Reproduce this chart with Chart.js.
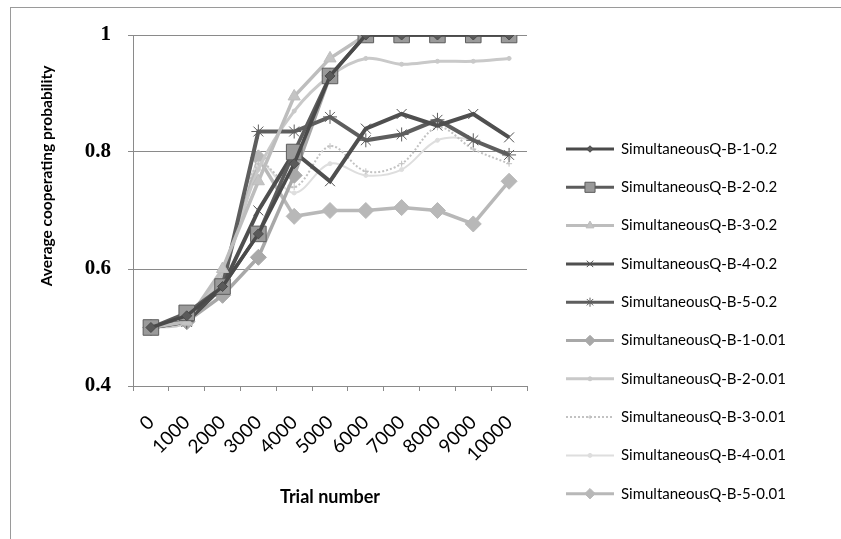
<!DOCTYPE html>
<html>
<head>
<meta charset="utf-8">
<script src="https://cdn.jsdelivr.net/npm/chart.js@4/dist/chart.umd.min.js"></script>
<style>
  html, body { margin: 0; padding: 0; background: #fff; }
  #wrap { width: 841px; height: 539px; position: relative; }
</style>
</head>
<body>
<div id="wrap"><canvas id="c" width="841" height="539"></canvas></div>
<script>
// ---- data ----
const categories = ["0","1000","2000","3000","4000","5000","6000","7000","8000","9000","10000"];
const seriesNames = [
  "SimultaneousQ-B-1-0.2","SimultaneousQ-B-2-0.2","SimultaneousQ-B-3-0.2",
  "SimultaneousQ-B-4-0.2","SimultaneousQ-B-5-0.2","SimultaneousQ-B-1-0.01",
  "SimultaneousQ-B-2-0.01","SimultaneousQ-B-3-0.01","SimultaneousQ-B-4-0.01",
  "SimultaneousQ-B-5-0.01"
];
const b1_02  = [0.50, 0.52, 0.57, 0.66, 0.78, 0.93, 1.00, 1.00, 1.00, 1.00, 1.00];
const b2_02  = [0.50, 0.525,0.57, 0.66, 0.80, 0.93, 1.00, 1.00, 1.00, 1.00, 1.00];
const b3_02  = [0.50, 0.51, 0.60, 0.75, 0.895,0.96, 1.00, 1.00, 1.00, 1.00, 1.00];
const b4_02  = [0.50, 0.51, 0.57, 0.70, 0.80, 0.75, 0.84, 0.865,0.845,0.865,0.825];
const b5_02  = [0.50, 0.51, 0.57, 0.835,0.835,0.86, 0.82, 0.83, 0.855,0.82, 0.795];
const b1_001 = [0.50, 0.51, 0.555,0.62, 0.76, 0.93, 1.00, 1.00, 1.00, 1.00, 1.00];
const b2_001 = [0.50, 0.51, 0.60, 0.77, 0.87, 0.93, 0.96, 0.95, 0.955,0.955,0.96];
const b3_001 = [0.50, 0.51, 0.59, 0.78, 0.74, 0.81, 0.767,0.78, 0.842,0.805,0.78];
const b4_001 = [0.50, 0.52, 0.60, 0.78, 0.73, 0.78, 0.76, 0.77, 0.82, 0.82, 0.79];
const b5_001 = [0.50, 0.51, 0.58, 0.79, 0.69, 0.70, 0.70, 0.705,0.70, 0.677,0.75];
const yTicks = [0.4, 0.6, 0.8, 1];

const seriesValues = [b1_02,b2_02,b3_02,b4_02,b5_02,b1_001,b2_001,b3_001,b4_001,b5_001];

// ---- styles ----
const styles = [
  {c:"#4a4a4a", f:"#5a5a5a", ps:"rectRot",  r:5,  w:3.5, t:0},
  {c:"#5c5c5c", f:"#9a9a9a", ps:"rect",     r:11, w:3.5, t:0},
  {c:"#bdbdbd", f:"#c4c4c4", ps:"triangle", r:7,  w:3.5, t:0},
  {c:"#4f4f4f", f:"#4f4f4f", ps:"crossRot", r:7,  w:4,   t:0, pw:1},
  {c:"#5e5e5e", f:"#5e5e5e", ps:"star",     r:7,  w:4,   t:0, pw:1},
  {c:"#a8a8a8", f:"#a8a8a8", ps:"rectRot",  r:8,  w:3.5, t:0},
  {c:"#c9c9c9", f:"#c9c9c9", ps:"circle",   r:2,  w:3,   t:0.35},
  {c:"#c2c2c2", f:"#c2c2c2", ps:"cross",    r:3,  w:2,   t:0.35, dash:[2,2]},
  {c:"#dedede", f:"#dedede", ps:"circle",   r:2,  w:2,   t:0.35},
  {c:"#b8b8b8", f:"#b8b8b8", ps:"rectRot",  r:8,  w:3.5, t:0}
];

const datasets = seriesNames.map((name, i) => {
  const s = styles[i];
  return {
    label: name,
    data: seriesValues[i],
    borderColor: s.c,
    backgroundColor: s.f,
    borderWidth: s.w,
    borderDash: s.dash || [],
    pointStyle: s.ps,
    pointRadius: s.r,
    pointBorderColor: s.c,
    pointBackgroundColor: s.f,
    pointBorderWidth: s.pw || 1,
    tension: s.t,
    fill: false
  };
});

const PLOT_LEFT = 133, PLOT_TOP = 35, PLOT_BOTTOM = 386, PLOT_RIGHT = 527;

const extras = {
  id: "extras",
  beforeDraw(chart) {
    const ctx = chart.ctx;
    ctx.save();
    ctx.fillStyle = "#fff";
    ctx.fillRect(0, 0, chart.width, chart.height);
    ctx.strokeStyle = "#9a9a9a";
    ctx.lineWidth = 1;
    ctx.strokeRect(10.5, 7.5, 860, 560);
    ctx.restore();
  },
  afterDraw(chart) {
    const ctx = chart.ctx;
    ctx.save();
    // axis titles
    ctx.fillStyle = "#000";
    ctx.textAlign = "center";
    ctx.textBaseline = "middle";
    ctx.font = "bold 18px Lato, 'Noto Sans', sans-serif";
    ctx.fillText("Trial number", (PLOT_LEFT + PLOT_RIGHT) / 2, 497);
    ctx.font = "bold 15.5px Lato, 'Noto Sans', sans-serif";
    ctx.translate(47, 176);
    ctx.rotate(-Math.PI / 2);
    ctx.fillText("Average cooperating probability", 0, 0);
    ctx.restore();

    // legend
    ctx.save();
    const helpers = Chart.helpers;
    chart.data.datasets.forEach((ds, i) => {
      const y = 149 + i * 38.3;
      ctx.strokeStyle = ds.borderColor;
      ctx.lineWidth = Math.min(ds.borderWidth, 3);
      ctx.setLineDash(ds.borderDash || []);
      ctx.beginPath();
      ctx.moveTo(566, y);
      ctx.lineTo(614, y);
      ctx.stroke();
      ctx.setLineDash([]);
      ctx.fillStyle = ds.pointBackgroundColor;
      ctx.strokeStyle = ds.pointBorderColor;
      ctx.lineWidth = ds.pointBorderWidth;
      const r = Math.max(2, ds.pointRadius * 0.65);
      if (helpers && helpers.drawPoint) {
        helpers.drawPoint(ctx, {pointStyle: ds.pointStyle, radius: r, rotation: 0, borderWidth: ds.pointBorderWidth}, 590, y);
      } else {
        ctx.beginPath(); ctx.arc(590, y, r, 0, Math.PI * 2); ctx.fill(); ctx.stroke();
      }
      ctx.fillStyle = "#000";
      ctx.font = "15px Lato, 'Noto Sans', sans-serif";
      ctx.textAlign = "left";
      ctx.textBaseline = "middle";
      ctx.fillText(ds.label, 621, y);
    });
    ctx.restore();
  }
};

new Chart(document.getElementById("c"), {
  type: "line",
  data: { labels: categories, datasets },
  options: {
    responsive: false,
    animation: false,
    devicePixelRatio: 1,
    layout: { padding: { top: PLOT_TOP, left: 10, right: 841 - PLOT_RIGHT, bottom: 0 } },
    plugins: { legend: { display: false }, tooltip: { enabled: false } },
    scales: {
      x: {
        type: "category",
        offset: true,
        afterFit(scale) { scale.height = 539 - PLOT_BOTTOM; },
        grid: { display: true, drawOnChartArea: false, offset: true, tickLength: 5, color: "#8a8a8a", lineWidth: 1 },
        border: { display: true, color: "#8a8a8a", width: 1 },
        ticks: {
          autoSkip: false, minRotation: 45, maxRotation: 45, padding: 20,
          color: "#000", font: { family: "Lato, 'Noto Sans', sans-serif", size: 19 }
        }
      },
      y: {
        min: 0.4, max: 1,
        afterFit(scale) { scale.width = PLOT_LEFT - 10; },
        afterBuildTicks(scale) { scale.ticks = yTicks.map(v => ({ value: v })); },
        grid: { color: "#8a8a8a", lineWidth: 1, tickLength: 5 },
        border: { display: true, color: "#8a8a8a", width: 1 },
        ticks: {
          padding: 17, color: "#000",
          font: { family: "'Liberation Serif', 'DejaVu Serif', serif", size: 21, weight: "bold" },
          callback: (v) => String(Math.round(v * 10) / 10)
        }
      }
    }
  },
  plugins: [extras]
});
</script>
</body>
</html>
